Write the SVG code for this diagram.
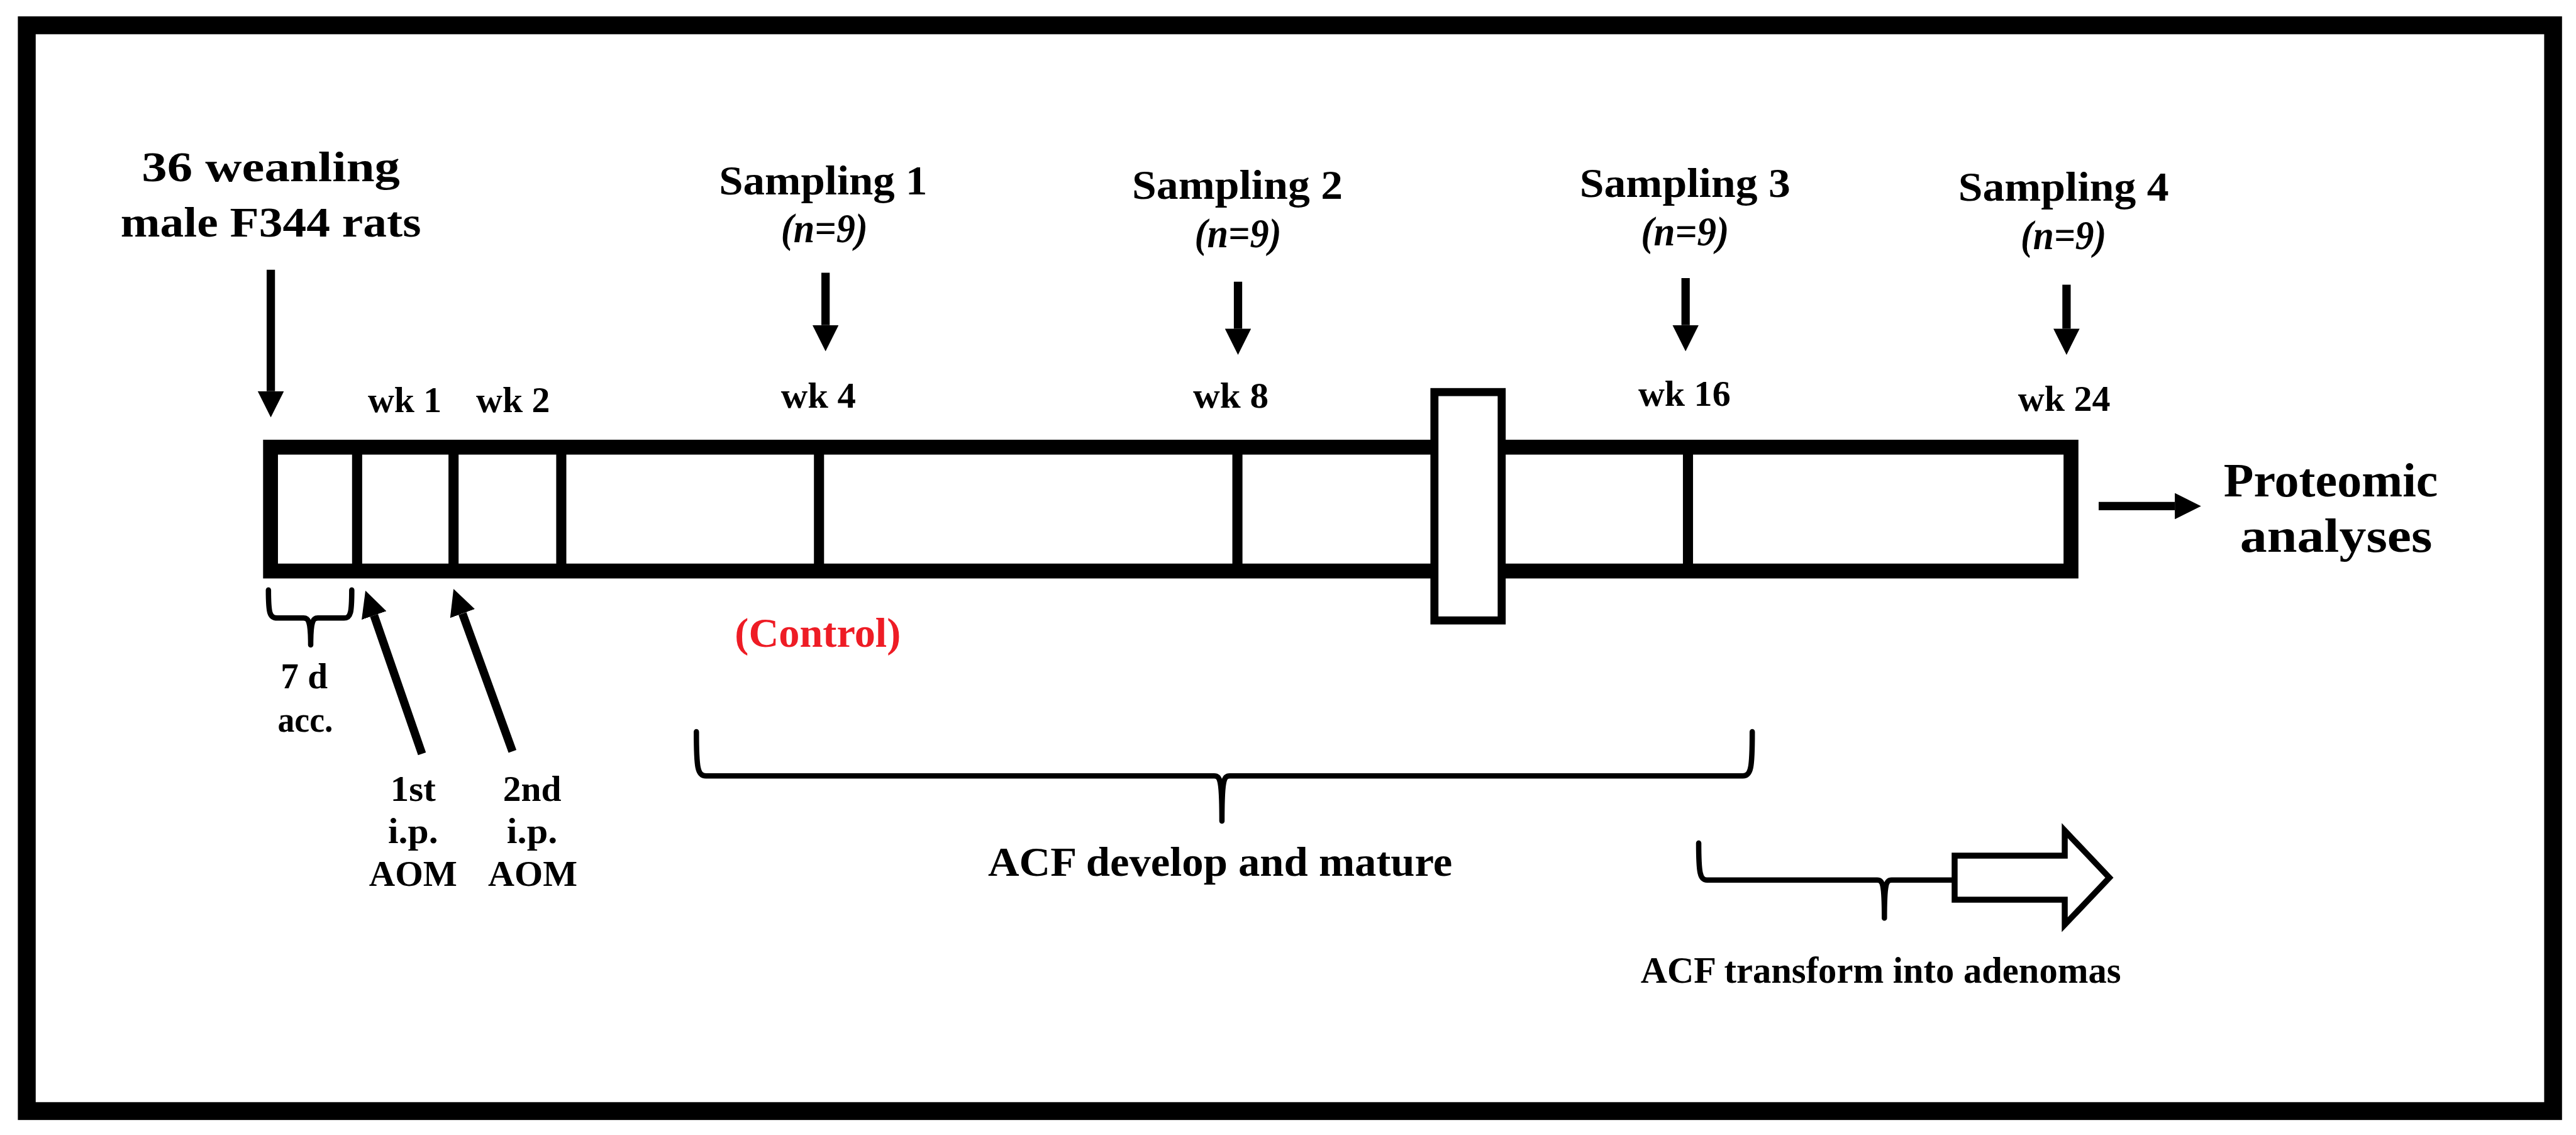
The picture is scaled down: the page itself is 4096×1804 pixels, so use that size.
<svg xmlns="http://www.w3.org/2000/svg" width="4096" height="1804" viewBox="0 0 4096 1804">
<style>
.t{font-family:"Liberation Serif","Times New Roman",serif;font-weight:bold;fill:#000;text-anchor:middle}
.big{font-size:71px}
.s{font-size:70px}
.n{font-size:70px;font-style:italic}
.wk{font-size:60px}
.sm{font-size:60px}
.red{fill:#EE1C25}
.ln{stroke:#000;fill:none}
.sh{stroke:#000;stroke-width:14;fill:none;marker-end:url(#ah)}
.br{stroke:#000;stroke-width:9;fill:none;stroke-linejoin:round;stroke-linecap:round}
.dv{stroke:#000;stroke-width:17}
</style>
<defs>
<marker id="ah" viewBox="0 0 44 44" markerWidth="44" markerHeight="44" markerUnits="userSpaceOnUse" refX="0" refY="22" orient="auto">
<path d="M0,0 L44,22 L0,44 z" fill="#000"/>
</marker>
</defs>
<rect width="4096" height="1804" fill="#fff"/>
<g transform="scale(0.94640)">
<rect id="frame" x="45" y="42.5" width="4244.5" height="1823.5" fill="none" stroke="#000" stroke-width="30"/>

<g id="timeline">
<rect x="454.5" y="751" width="3025" height="208" fill="#fff" stroke="#000" stroke-width="25"/>
<line class="dv" x1="600" y1="751" x2="600" y2="959"/>
<line class="dv" x1="762" y1="751" x2="762" y2="959"/>
<line class="dv" x1="943" y1="751" x2="943" y2="959"/>
<line class="dv" x1="1376" y1="751" x2="1376" y2="959"/>
<line class="dv" x1="2079" y1="751" x2="2079" y2="959"/>
<line class="dv" x1="2836" y1="751" x2="2836" y2="959"/>
</g>
<g id="break">
<rect x="2410" y="658.5" width="113" height="383.5" fill="#fff" stroke="#000" stroke-width="13.5"/>
</g>

<g id="start">
<text class="t big" x="455" y="304" textLength="434" lengthAdjust="spacingAndGlyphs">36 weanling</text>
<text class="t big" x="455" y="397" textLength="505" lengthAdjust="spacingAndGlyphs">male F344 rats</text>
</g>

<g id="wk-labels">
<text class="t wk" x="680" y="692" textLength="124" lengthAdjust="spacingAndGlyphs">wk 1</text>
<text class="t wk" x="862" y="692" textLength="124" lengthAdjust="spacingAndGlyphs">wk 2</text>
<text class="t wk" x="1375" y="685" textLength="126" lengthAdjust="spacingAndGlyphs">wk 4</text>
<text class="t wk" x="2068" y="685" textLength="127" lengthAdjust="spacingAndGlyphs">wk 8</text>
<text class="t wk" x="2830" y="682" textLength="155" lengthAdjust="spacingAndGlyphs">wk 16</text>
<text class="t wk" x="3468" y="690" textLength="155" lengthAdjust="spacingAndGlyphs">wk 24</text>
</g>

<g id="sampling1">
<text class="t s" x="1383" y="326" textLength="350" lengthAdjust="spacingAndGlyphs">Sampling 1</text>
<text class="t n" x="1385" y="407" textLength="146" lengthAdjust="spacingAndGlyphs">(n=9)</text>
</g>
<g id="sampling2">
<text class="t s" x="2079" y="334" textLength="354" lengthAdjust="spacingAndGlyphs">Sampling 2</text>
<text class="t n" x="2080" y="415" textLength="146" lengthAdjust="spacingAndGlyphs">(n=9)</text>
</g>
<g id="sampling3">
<text class="t s" x="2831" y="331" textLength="354" lengthAdjust="spacingAndGlyphs">Sampling 3</text>
<text class="t n" x="2831" y="412" textLength="148" lengthAdjust="spacingAndGlyphs">(n=9)</text>
</g>
<g id="sampling4">
<text class="t s" x="3467" y="337" textLength="354" lengthAdjust="spacingAndGlyphs">Sampling 4</text>
<text class="t n" x="3467" y="418" textLength="144" lengthAdjust="spacingAndGlyphs">(n=9)</text>
</g>

<g id="acc">
<path class="br" d="M451,991 C451,1030 453,1038 466,1038 L510,1038 C518,1038 522,1042 522,1083 C522,1042 526,1038 534,1038 L578,1038 C589,1038 591,1030 591,991"/>
<text class="t sm" x="511" y="1156" textLength="79" lengthAdjust="spacingAndGlyphs">7 d</text>
<text class="t sm" x="513" y="1229" textLength="93" lengthAdjust="spacingAndGlyphs">acc.</text>
</g>

<g id="aom1">
<text class="t sm" x="694" y="1345" textLength="76" lengthAdjust="spacingAndGlyphs">1st</text>
<text class="t sm" x="694" y="1416" textLength="84" lengthAdjust="spacingAndGlyphs">i.p.</text>
<text class="t sm" x="694" y="1488" textLength="148" lengthAdjust="spacingAndGlyphs">AOM</text>
</g>
<g id="aom2">
<text class="t sm" x="894" y="1345" textLength="98" lengthAdjust="spacingAndGlyphs">2nd</text>
<text class="t sm" x="894" y="1416" textLength="85" lengthAdjust="spacingAndGlyphs">i.p.</text>
<text class="t sm" x="895" y="1488" textLength="150" lengthAdjust="spacingAndGlyphs">AOM</text>
</g>

<g id="control">
<text class="t s red" x="1374" y="1086" textLength="279" lengthAdjust="spacingAndGlyphs">(Control)</text>
</g>

<g id="develop">
<path class="br" d="M1170,1229 C1170,1290 1172,1303 1186,1303 L2040,1303 C2050,1303 2053,1310 2053,1379 C2053,1310 2056,1303 2066,1303 L2928,1303 C2942,1303 2944,1290 2944,1229"/>
<text class="t s" x="2050" y="1471" font-size="62" textLength="780" lengthAdjust="spacingAndGlyphs">ACF develop and mature</text>
</g>

<g id="transform">
<path class="br" d="M2854,1416 C2854,1466 2856,1478 2868,1478 L3154,1478 C3163,1478 3166,1484 3166,1542 C3166,1484 3169,1478 3178,1478 L3284,1478"/>
<path d="M3284,1437 L3469,1437 L3469,1395 L3544,1474 L3469,1553 L3469,1511 L3284,1511 Z" fill="#fff" stroke="#000" stroke-width="10" stroke-linejoin="miter"/>
<text class="t" x="3160" y="1650" font-size="62" textLength="807" lengthAdjust="spacingAndGlyphs">ACF transform into adenomas</text>
</g>

<g id="proteomic">
<text class="t" x="3916" y="834" font-size="80" textLength="360" lengthAdjust="spacingAndGlyphs">Proteomic</text>
<text class="t" x="3925" y="927" font-size="80" textLength="323" lengthAdjust="spacingAndGlyphs">analyses</text>
</g>

<g id="connectors">
<line class="sh" x1="455" y1="453" x2="455" y2="657"/>
<line class="sh" x1="1387" y1="458" x2="1387" y2="546"/>
<line class="sh" x1="2080" y1="473" x2="2080" y2="552"/>
<line class="sh" x1="2832" y1="467" x2="2832" y2="546"/>
<line class="sh" x1="3472" y1="478" x2="3472" y2="552"/>
<line class="sh" x1="709" y1="1266" x2="628.4" y2="1033.6"/>
<line class="sh" x1="861" y1="1262" x2="777" y2="1030.4"/>
<line class="sh" x1="3526" y1="850" x2="3654" y2="850"/>
</g>
</g>
</svg>
